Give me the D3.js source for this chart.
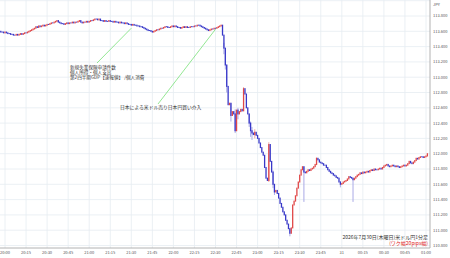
<!DOCTYPE html>
<html><head><meta charset="utf-8">
<script src="https://cdn.jsdelivr.net/npm/d3@7"></script>
<style>html,body{margin:0;padding:0;background:#fff;}svg{display:block;font-family:"Noto Sans CJK JP","Noto Sans",sans-serif;}</style>
</head><body>
<script>
// ---- data ----
const startTime = [2026, 6, 30, 19, 56]; // first 1-minute candle
const firstOpen = 113.60;
const closes = [
113.60,113.59,113.59,113.58,113.59,113.58,113.57,113.57,113.56,113.56,113.55,113.55,
113.56,113.55,113.56,113.57,113.56,113.57,113.58,113.58,113.59,113.60,113.61,113.62,
113.63,113.64,113.66,113.65,113.67,113.66,113.67,113.68,113.67,113.68,113.69,113.69,
113.70,113.71,113.71,113.72,113.73,113.74,113.72,113.71,113.70,113.70,113.69,113.70,
113.71,113.70,113.71,113.71,113.72,113.71,113.72,113.72,113.73,113.74,113.72,113.71,
113.72,113.72,113.73,113.72,113.73,113.74,113.74,113.75,113.76,113.76,113.75,113.76,
113.74,113.74,113.73,113.74,113.73,113.73,113.74,113.73,113.73,113.72,113.73,113.72,
113.72,113.71,113.72,113.71,113.71,113.70,113.71,113.70,113.69,113.69,113.68,113.69,
113.68,113.68,113.67,113.67,113.66,113.66,113.65,113.64,113.63,113.62,113.61,113.61,
113.60,113.59,113.60,113.61,113.62,113.62,113.63,113.64,113.64,113.65,113.66,113.66,
113.65,113.65,113.66,113.67,113.66,113.67,113.66,113.65,113.65,113.64,113.65,113.66,
113.65,113.66,113.65,113.65,113.66,113.66,113.66,113.67,113.67,113.68,113.68,113.67,
113.66,113.65,113.64,113.63,113.62,113.61,113.62,113.63,113.63,113.64,113.64,113.65,
113.66,113.67,113.68,113.55,113.38,113.16,112.88,112.64,
112.66,112.50,112.55,112.52,112.30,112.57,112.52,112.55,112.58,112.56,112.85,112.78,
112.60,112.52,112.40,112.30,112.27,112.25,112.28,112.24,112.20,112.14,112.08,112.02,
111.98,111.82,111.68,111.65,112.12,111.90,111.76,111.60,111.50,111.52,111.48,111.42,
111.35,111.30,111.24,111.20,111.13,111.08,111.02,110.96,111.03,111.33,111.38,111.45,
111.55,111.63,111.72,111.79,111.83,111.76,111.75,111.77,111.79,111.78,111.80,111.81,
111.83,111.86,111.94,111.92,111.89,111.88,111.87,111.85,111.85,111.82,111.79,111.77,
111.75,111.74,111.72,111.71,111.69,111.68,111.63,111.60,111.61,111.63,111.64,111.65,
111.67,111.70,111.69,111.68,111.66,111.68,111.70,111.72,111.73,111.75,111.74,111.76,
111.75,111.76,111.77,111.76,111.78,111.79,111.78,111.80,111.79,111.79,111.80,111.81,
111.80,111.82,111.84,111.85,111.86,111.84,111.83,111.84,111.85,111.84,111.83,111.84,
111.83,111.82,111.83,111.84,111.85,111.84,111.85,111.87,111.90,111.88,111.87,111.89,
111.91,111.94,111.93,111.95,111.96,111.96,111.95,111.96,111.97,112.00
];
// notable wicks: [candle index, high, low]
const wicks = [
[160,113.45,113.30],[161,113.38,113.10],[162,113.16,112.80],[165,112.66,112.42],[168,112.58,112.27],
[170,112.60,112.45],[174,112.87,112.56],[178,112.52,112.35],[179,112.42,112.22],[180,112.35,112.18],
[182,112.32,112.20],[192,112.15,111.63],[195,111.78,111.55],[196,111.60,111.46],[207,111.02,110.92],
[217,111.83,111.37],[226,111.95,111.85],[243,111.64,111.56],[252,111.68,111.37]
];
const yTicks = [110.8,111.0,111.2,111.4,111.6,111.8,112.0,112.2,112.4,112.6,112.8,113.0,113.2,113.4,113.6,113.8,114.0];
const annot1 = ["新規失業保険申請件数","個人所得・個人支出","第2四半期GDP【速報値】 /個人消費"];
const annot2 = "日本による米ドル売り日本円買い介入";
const title1 = "2026年7月30日(木曜日)米ドル円1分足";
const title2 = "(ワク幅20pips幅)";
const annot1Time = [21, 30];
const annot2Time = [22, 30];

// ---- layout ----
const W = 450, H = 258;
const svg = d3.select("body").append("svg").attr("width", W).attr("height", H);
const t0 = new Date(startTime[0], startTime[1], startTime[2], startTime[3], startTime[4]);
const tm = i => new Date(t0.getTime() + i * 60000);
const x = d3.scaleTime()
  .domain([new Date(2026,6,30,20,0), new Date(2026,6,31,1,0)])
  .range([5, 426]);
const y = d3.scaleLinear().domain([110.8, 113.8]).range([245.5, 16]);
const plotR = 430, plotB = 248;

// grid
const xt = d3.timeMinute.every(15).range(new Date(2026,6,30,20,0), new Date(2026,6,31,1,1));
svg.append("g").selectAll("line").data(xt).join("line")
  .attr("x1", d => x(d)).attr("x2", d => x(d)).attr("y1", 0).attr("y2", plotB)
  .attr("stroke", "#e6ecf1").attr("stroke-width", 0.8);
svg.append("g").selectAll("line").data(yTicks).join("line")
  .attr("x1", 0).attr("x2", plotR).attr("y1", d => y(d)).attr("y2", d => y(d))
  .attr("stroke", "#e6ecf1").attr("stroke-width", 0.8);

// axes lines
svg.append("line").attr("x1", plotR).attr("x2", plotR).attr("y1", 0).attr("y2", plotB)
  .attr("stroke", "#a0a0a0").attr("stroke-width", 0.8);
svg.append("line").attr("x1", 0).attr("x2", plotR).attr("y1", plotB).attr("y2", plotB)
  .attr("stroke", "#a0a0a0").attr("stroke-width", 0.8);

// y labels
const fmt = d3.format(".3f");
svg.append("g").selectAll("text").data(yTicks.filter(d => d <= 113.8)).join("text")
  .attr("x", 433).attr("y", d => y(d)).attr("dy", "0.35em")
  .attr("font-size", 4).attr("fill", "#555").text(d => fmt(d));
svg.append("text").attr("x", 433).attr("y", 6).attr("font-size", 4).attr("fill", "#555").text("JPY");

// x labels
svg.append("g").selectAll("text").data(xt).join("text")
  .attr("x", d => x(d)).attr("y", 254).attr("text-anchor", "middle")
  .attr("font-size", 4).attr("fill", "#555")
  .text(d => (d.getHours() === 0 && d.getMinutes() === 0) ? String(d.getDate()) : d3.timeFormat("%H:%M")(d));

// candles
const candles = closes.map((c, i) => ({ t: tm(i), o: i === 0 ? firstOpen : closes[i - 1], c }));
const wickG = svg.append("g");
wickG.selectAll("line").data(wicks).join("line")
  .attr("x1", d => x(tm(d[0]))).attr("x2", d => x(tm(d[0])))
  .attr("y1", d => y(d[1])).attr("y2", d => y(d[2]))
  .attr("stroke", d => closes[d[0]] >= (d[0] ? closes[d[0]-1] : firstOpen) ? "#f0a8a8" : "#aaaae6")
  .attr("stroke-width", 1);
const cw = 1.3;
svg.append("g").selectAll("rect").data(candles).join("rect")
  .attr("x", d => x(d.t) - cw / 2).attr("width", cw)
  .attr("y", d => y(Math.max(d.o, d.c)) - 0.5)
  .attr("height", d => Math.abs(y(d.o) - y(d.c)) + 1)
  .attr("fill", d => d.c > d.o ? "#e04848" : "#3838c8");

// annotations
const aT1 = new Date(2026,6,30,annot1Time[0],annot1Time[1]);
const aT2 = new Date(2026,6,30,annot2Time[0],annot2Time[1]);
const near = t => closes[Math.round((t - t0) / 60000)];
svg.append("line").attr("x1", 97).attr("y1", 63).attr("x2", x(aT1)).attr("y2", y(near(aT1)) + 3)
  .attr("stroke", "#66dd66").attr("stroke-width", 0.7);
svg.append("line").attr("x1", 158).attr("y1", 104).attr("x2", x(aT2)).attr("y2", y(near(aT2)) + 1)
  .attr("stroke", "#66dd66").attr("stroke-width", 0.7);
svg.append("g").selectAll("text").data(annot1).join("text")
  .attr("x", 70).attr("y", (d, i) => 69 + i * 5.2)
  .attr("font-size", 4.6).attr("fill", "#333").text(d => d);
svg.append("text").attr("x", 120).attr("y", 109).attr("font-size", 4.8).attr("fill", "#333").text(annot2);

// title
svg.append("text").attr("x", 428).attr("y", 239).attr("text-anchor", "end")
  .attr("font-size", 5).attr("fill", "#333").text(title1);
svg.append("text").attr("x", 428).attr("y", 245).attr("text-anchor", "end")
  .attr("font-size", 5).attr("fill", "#e02020").text(title2);
</script>
</body></html>
